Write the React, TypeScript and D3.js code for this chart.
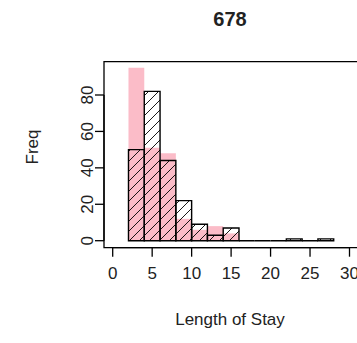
import React from "react";
import * as d3 from "d3";

const hatchBreaks = [2, 4, 6, 8, 10, 12, 14, 16, 18, 20, 22, 24, 26, 28];
const hatchCounts = [50, 82, 44, 22, 9, 3, 7, 0, 0, 0, 1, 0, 1];
const pinkBreaks = [2, 4, 6, 8, 10, 12, 14, 16];
const pinkCounts = [95, 51, 48, 12, 6, 8, 4];
const xTicks = [0, 5, 10, 15, 20, 25, 30];
const yTicks = [0, 20, 40, 60, 80];
const title = "678";
const xLabel = "Length of Stay";
const yLabel = "Freq";

const W = 357;
const H = 343;
const font = "'Liberation Sans', Arial, sans-serif";

export default function App() {
  const x = d3.scaleLinear().domain([0, 30]).range([112.7, 349.5]);
  const y = d3.scaleLinear().domain([0, 80]).range([240.7, 95]);
  const boxL = 104, boxT = 61.7, boxB = 247.7, boxR = 420;

  const barPath = (x0: number, x1: number, c: number) =>
    `M${x(x0)},${y(0)}V${y(c)}H${x(x1)}V${y(0)}Z`;

  return (
    <svg width={W} height={H} style={{ position: "absolute", left: 0, top: 0, background: "#fff" }}>
      <defs>
        <pattern id="hatch" patternUnits="userSpaceOnUse" width={10} height={10}>
          <path d="M0,10L10,0M-2.5,2.5L2.5,-2.5M7.5,12.5L12.5,7.5" stroke="#000" strokeWidth={0.9} />
        </pattern>
      </defs>
      {pinkCounts.map((c, i) => (
        <path key={"p" + i} d={barPath(pinkBreaks[i], pinkBreaks[i + 1], c)} fill="#fbbcc8" stroke="none" />
      ))}
      {hatchCounts.map((c, i) => (
        <path key={"hf" + i} d={barPath(hatchBreaks[i], hatchBreaks[i + 1], c)} fill="url(#hatch)" stroke="none" />
      ))}
      {hatchCounts.map((c, i) => (
        <path key={"h" + i} d={barPath(hatchBreaks[i], hatchBreaks[i + 1], c)} fill="none" stroke="#000" strokeWidth={1.4} />
      ))}
      <path d={`M${boxR},${boxT}H${boxL}V${boxB}H${boxR}`} fill="none" stroke="#000" strokeWidth={1.3} />
      {xTicks.map((t) => (
        <g key={"xt" + t}>
          <line x1={x(t)} x2={x(t)} y1={boxB} y2={boxB + 9} stroke="#000" strokeWidth={1.3} />
          <text x={x(t)} y={boxB + 31} textAnchor="middle" fontFamily={font} fontSize={17} fill="#222">
            {t}
          </text>
        </g>
      ))}
      <line x1={x(0)} x2={x(30)} y1={boxB} y2={boxB} stroke="#000" strokeWidth={1.3} />
      <line x1={boxL} x2={boxL} y1={y(0)} y2={y(80)} stroke="#000" strokeWidth={1.3} />
      {yTicks.map((t) => (
        <g key={"yt" + t}>
          <line x1={boxL} x2={boxL - 9} y1={y(t)} y2={y(t)} stroke="#000" strokeWidth={1.3} />
          <text
            transform={`translate(${boxL - 11},${y(t)}) rotate(-90)`}
            textAnchor="middle"
            fontFamily={font}
            fontSize={17}
            fill="#222"
          >
            {t}
          </text>
        </g>
      ))}
      <text x={230} y={26} textAnchor="middle" fontFamily={font} fontSize={20} fontWeight="bold" fill="#222">
        {title}
      </text>
      <text x={230} y={325} textAnchor="middle" fontFamily={font} fontSize={17} fill="#222">
        {xLabel}
      </text>
      <text
        transform={`translate(38,147) rotate(-90)`}
        textAnchor="middle"
        fontFamily={font}
        fontSize={17}
        fill="#222"
      >
        {yLabel}
      </text>
    </svg>
  );
}
